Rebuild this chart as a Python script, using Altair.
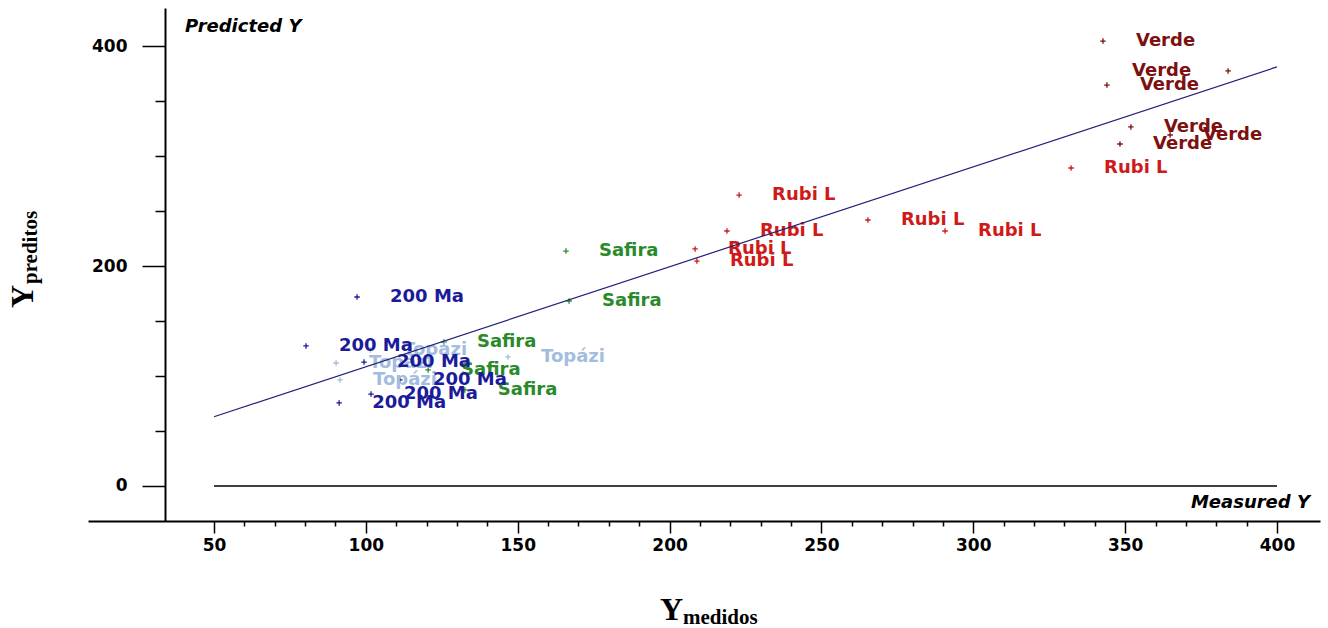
import altair as alt
import pandas as pd

# ---- data (measured Y, predicted Y) ----
topazio_x = [90.2, 101.4, 91.5, 146.8]
topazio_y = [111.8, 123.6, 96.4, 117.3]

safira_x = [165.9, 166.9, 125.7, 120.5, 132.6]
safira_y = [213.6, 168.2, 130.9, 105.5, 87.3]

rubi_x = [332.2, 222.9, 218.9, 208.4, 209.0, 265.3, 290.7]
rubi_y = [289.1, 264.5, 231.8, 215.5, 204.5, 241.8, 231.8]

verde_x = [342.7, 383.9, 344.0, 351.9, 348.3, 364.8]
verde_y = [404.5, 377.3, 364.5, 326.4, 310.9, 319.1]

ma200_x = [97.1, 80.3, 99.4, 111.2, 101.7, 91.2]
ma200_y = [171.8, 127.3, 112.7, 96.4, 83.6, 75.5]

names = ["Topázi", "Safira", "Rubi L", "Verde", "200 Ma"]
colors = ["#a3bde0", "#2a8a2a", "#cf1a1a", "#7d1010", "#1b1b9a"]
left_labels = [("Verde", 1)]

fit_x = [50, 400]
fit_y = [63, 381]
zero_x = [50, 400]
zero_y = [0, 0]

x_ticks = list(range(50, 401, 10))
y_ticks = list(range(0, 401, 50))

# ---- tables ----
rows = []
for name, xs, ys in zip(names,
                        [topazio_x, safira_x, rubi_x, verde_x, ma200_x],
                        [topazio_y, safira_y, rubi_y, verde_y, ma200_y]):
    for i, (a, b) in enumerate(zip(xs, ys)):
        rows.append({"measured": a, "predicted": b, "sample": name,
                     "side": "left" if (name, i) in left_labels else "right"})
df = pd.DataFrame(rows)
fit_df = pd.DataFrame({"measured": fit_x, "predicted": fit_y})
zero_df = pd.DataFrame({"measured": zero_x, "predicted": zero_y})

xscale = alt.Scale(domain=[8.51, 414.16], nice=False, zero=False)
yscale = alt.Scale(domain=[-31.82, 434.55], nice=False, zero=False)

x_axis = alt.Axis(
    values=x_ticks, title=None, grid=False,
    labelExpr="datum.value % 50 === 0 ? datum.label : ''",
    tickSize={"condition": {"test": "datum.value % 50 === 0", "value": 12}, "value": 5},
    domainColor="black", domainWidth=2, tickColor="black", tickWidth=1.5,
    labelFont="DejaVu Sans", labelFontWeight="bold", labelFontSize=17,
    labelColor="black", labelPadding=4, labelFlush=False, labelOverlap=False,
)
y_axis = alt.Axis(
    values=y_ticks, title=None, grid=False, offset=-77,
    labelExpr="datum.value % 200 === 0 ? datum.label : ''",
    tickSize={"condition": {"test": "datum.value % 200 === 0", "value": 23}, "value": 10},
    domainColor="black", domainWidth=2, tickColor="black", tickWidth=1.5,
    labelFont="DejaVu Sans", labelFontWeight="bold", labelFontSize=17,
    labelColor="black", labelPadding=15, labelFlush=False, labelOverlap=False,
)

x_enc = alt.X("measured:Q", scale=xscale, axis=x_axis)
y_enc = alt.Y("predicted:Q", scale=yscale, axis=y_axis)
color = alt.Color("sample:N", scale=alt.Scale(domain=names, range=colors), legend=None)

zero_line = alt.Chart(zero_df).mark_line(color="black", strokeWidth=1.6).encode(x=x_enc, y=y_enc)
fit_line = alt.Chart(fit_df).mark_line(color="#1f1f78", strokeWidth=1.2).encode(x=x_enc, y=y_enc)

points = alt.Chart(df).mark_point(
    shape="M-1,0H1M0,-1V1", size=30, strokeWidth=1.3, filled=False, opacity=1
).encode(x=x_enc, y=y_enc, color=color)

label_style = dict(baseline="middle", font="DejaVu Sans", fontWeight="bold", fontSize=18)
labels_r = alt.Chart(df).transform_filter(alt.datum.side == "right").mark_text(
    align="left", dx=33, **label_style
).encode(x=x_enc, y=y_enc, text="sample:N", color=color)
labels_l = alt.Chart(df).transform_filter(alt.datum.side == "left").mark_text(
    align="right", dx=-37, **label_style
).encode(x=x_enc, y=y_enc, text="sample:N", color=color)

def note(txt, x, y, **kw):
    return alt.Chart(pd.DataFrame({"t": [txt]})).mark_text(**kw).encode(
        text="t:N", x=alt.value(x), y=alt.value(y))

pred_note = note("Predicted Y", 97, 19, align="left", baseline="middle", font="DejaVu Sans",
                 fontWeight="bold", fontStyle="italic", fontSize=18, color="black")
meas_note = note("Measured Y", 1222, 495, align="right", baseline="middle", font="DejaVu Sans",
                 fontWeight="bold", fontStyle="italic", fontSize=18, color="black")

serif = "Liberation Serif"
xt_main = note("Y", 572, 612, align="left", baseline="alphabetic", font=serif,
               fontWeight="bold", fontSize=32, color="black")
xt_sub = note("medidos", 595, 616, align="left", baseline="alphabetic", font=serif,
              fontWeight="bold", fontSize=21, color="black")
yt_main = note("Y", -55, 300, align="left", baseline="alphabetic", angle=270, font=serif,
               fontWeight="bold", fontSize=32, color="black")
yt_sub = note("preditos", -51, 276, align="left", baseline="alphabetic", angle=270, font=serif,
              fontWeight="bold", fontSize=21, color="black")

chart = alt.layer(
    zero_line, points, labels_r, labels_l, fit_line,
    pred_note, meas_note, xt_main, xt_sub, yt_main, yt_sub
).properties(
    width=1232, height=513, autosize="none",
    padding={"left": 88, "top": 8, "right": 8, "bottom": 107},
    background="white",
).configure_view(stroke=None)

chart.save("out.html", embed_options={"renderer": "svg", "actions": False})
